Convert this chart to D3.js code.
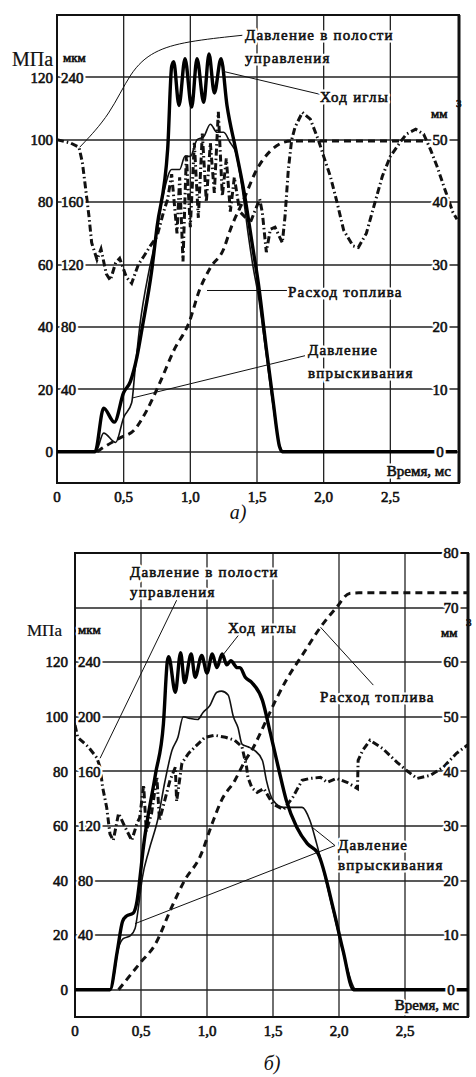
<!DOCTYPE html>
<html>
<head>
<meta charset="utf-8">
<script src="https://cdn.jsdelivr.net/npm/d3@7"></script>
<style>
  body { margin: 0; background: #fff; }
</style>
</head>
<body>
<div id="chart"></div>
<script>
// Axis ticks
const timeTicks = [0, 0.5, 1, 1.5, 2, 2.5];
const timeTickLabels = ["0", "0,5", "1,0", "1,5", "2,0", "2,5"];
const pressureTicksA = [0, 20, 40, 60, 80, 100, 120];
const liftTicksA = [40, 80, 120, 160, 240];
const volumeTicksA = [0, 10, 20, 30, 40, 50];
const pressureTicksB = [0, 20, 40, 60, 80, 100, 120];
const liftTicksB = [40, 80, 120, 160, 200, 240];
const volumeTicksB = [0, 10, 20, 30, 40, 50, 60, 70, 80];

// Panel а) — [time ms, value]
const needleLiftA = [[0,0],[0.285,0],[0.35,28],[0.43,19],[0.50,38],[0.55,45],[0.60,61],[0.64,80],[0.71,116],[0.75,144],[0.83,194],[0.86,247],[0.875,250],[0.915,222],[0.96,252],[1.01,221],[1.05,252],[1.10,224],[1.14,255],[1.18,230],[1.23,252],[1.275,222],[1.34,194],[1.40,168],[1.47,130],[1.51,108],[1.57,66],[1.62,33],[1.67,3],[1.69,0],[3.0,0]];
const injectionPressureA = [[0,0],[0.29,0],[0.35,6],[0.44,3],[0.50,11],[0.56,15.7],[0.585,26],[0.62,40],[0.69,58],[0.73,66],[0.80,83],[0.86,90.5],[0.92,90.5],[0.96,94.7],[1.0,94.7],[1.05,100],[1.10,101],[1.15,105],[1.20,102.4],[1.25,102.4],[1.30,99],[1.34,96],[1.39,84],[1.43,71],[1.47,59.4],[1.51,50],[1.57,31],[1.62,15],[1.67,2],[1.70,0],[3.0,0]];
const controlPressureA = [[0,100],[0.10,99],[0.165,97.6],[0.19,92.8],[0.21,86],[0.24,75.4],[0.26,67],[0.30,61.6],[0.33,65],[0.37,57],[0.40,55],[0.44,60.6],[0.47,62],[0.52,56],[0.56,54],[0.61,60],[0.65,62.6],[0.70,66],[0.75,69],[0.80,77],[0.83,81],[0.86,89],[0.90,70],[0.92,88],[0.945,61],[0.97,95],[1.0,72],[1.03,99],[1.06,75],[1.09,102],[1.12,80],[1.15,99],[1.18,83],[1.21,109],[1.24,82],[1.27,94],[1.30,77],[1.33,88],[1.37,77],[1.45,73.5],[1.52,81],[1.54,76.7],[1.57,64],[1.60,71.3],[1.635,72],[1.69,67],[1.71,75.4],[1.735,90.5],[1.76,100],[1.785,104],[1.84,108.8],[1.90,106.6],[1.96,100],[2.0,94.7],[2.05,88.3],[2.10,80],[2.15,71],[2.22,66],[2.26,65.5],[2.32,70],[2.37,77.7],[2.44,88.3],[2.50,94.7],[2.57,99],[2.62,101.8],[2.69,103.4],[2.75,101.8],[2.80,97],[2.85,91.5],[2.91,84],[2.97,76.7],[3.0,74.5]];
const fuelFlowA = [[0.30,0],[0.32,0.3],[0.47,2.2],[0.58,3.5],[0.675,6.7],[0.77,11],[0.88,16.4],[0.99,20.7],[1.07,26],[1.15,29.5],[1.25,32.5],[1.30,35.6],[1.40,40.4],[1.50,45.3],[1.60,48.2],[1.70,49.6],[1.76,49.8],[2.78,49.8]];

// Panel б)
const needleLiftB = [[0,0],[0.265,0],[0.32,28],[0.36,50],[0.39,54],[0.44,56],[0.47,65],[0.49,80],[0.515,102],[0.61,158],[0.67,195],[0.70,241],[0.71,244],[0.76,218],[0.80,247],[0.83,225],[0.88,246],[0.91,229],[0.96,245],[1.0,232],[1.04,246],[1.075,236],[1.115,246],[1.15,238],[1.18,241],[1.23,236],[1.25,236],[1.29,229],[1.34,225],[1.42,212],[1.48,188],[1.54,163],[1.60,139],[1.68,119],[1.76,107],[1.84,100],[1.96,58],[2.03,29],[2.11,0],[3.0,0]];
const injectionPressureB = [[0,0],[0.27,0],[0.33,15.4],[0.365,18.7],[0.42,19.8],[0.455,22.4],[0.48,30],[0.51,41],[0.56,51],[0.63,63],[0.68,76],[0.735,87.7],[0.78,92.5],[0.82,100],[0.87,99.4],[0.93,99],[0.97,101.6],[1.02,104],[1.075,109],[1.11,109.4],[1.16,108],[1.20,100],[1.235,96],[1.265,90],[1.31,89],[1.36,87.7],[1.42,84],[1.45,76.7],[1.50,69.4],[1.58,66.8],[1.65,66.8],[1.72,66.8],[1.78,62],[1.83,53.6],[1.96,28],[2.04,12],[2.13,0],[3.0,0]];
const controlPressureB = [[0,97],[0.02,92.5],[0.10,89],[0.165,85],[0.19,81.5],[0.21,74],[0.24,66.8],[0.265,57],[0.29,54.7],[0.33,64.6],[0.38,59.5],[0.43,54.7],[0.47,61],[0.49,63],[0.52,75],[0.54,58],[0.58,64.6],[0.62,78],[0.64,62],[0.68,69.4],[0.72,76.7],[0.76,81.5],[0.77,69],[0.81,83],[0.86,86.6],[0.91,89],[0.985,92.5],[1.06,93.2],[1.14,92.5],[1.21,91.4],[1.265,89],[1.30,81.5],[1.31,77.8],[1.34,74],[1.38,72.3],[1.43,73.7],[1.50,68],[1.58,66],[1.65,70.5],[1.72,76.7],[1.78,77.4],[1.86,77.8],[1.91,76],[1.98,77.4],[2.06,76],[2.14,73.7],[2.145,84],[2.18,87.7],[2.235,91.4],[2.33,88.4],[2.44,83.3],[2.51,80.4],[2.59,77.4],[2.69,78.5],[2.79,81.5],[2.89,86.6],[2.97,89.5],[3.0,90]];
const fuelFlowB = [[0.33,0],[0.49,4.8],[0.61,8.4],[0.73,15],[0.83,20],[0.95,24.5],[1.04,30.5],[1.11,34.7],[1.21,38.3],[1.29,42],[1.34,43.9],[1.45,49.4],[1.52,53],[1.60,56.7],[1.73,61.6],[1.86,66.4],[1.98,70],[2.08,72.6],[2.15,72.7],[3.0,72.7]];

const width = 476, height = 1077;
const serif = '"Liberation Serif", "Times New Roman", serif';
const svg = d3.select("#chart").append("svg")
  .attr("width", width).attr("height", height)
  .attr("viewBox", [0, 0, width, height]);

// Text with white halo, heavy serif faked with a thin stroke
const label = (g, x, y, str, o = {}) => {
  const add = () => g.append("text").attr("x", x).attr("y", y)
    .attr("dy", o.dy || null)
    .attr("text-anchor", o.anchor || "start")
    .attr("font-family", serif)
    .style("font-size", (o.size || 15) + "px")
    .style("letter-spacing", o.spacing || null)
    .style("font-style", o.italic ? "italic" : null)
    .text(str);
  if (o.halo) add().attr("fill", "#fff").attr("stroke", "#fff")
    .attr("stroke-width", 5).attr("stroke-linejoin", "round");
  add().attr("fill", "#111").attr("stroke", "#111")
    .attr("stroke-width", o.weight === undefined ? 0.6 : o.weight);
};

const drawPanel = (p) => {
  const x = d3.scaleLinear([0, 3], p.xRange);
  const yP = d3.scaleLinear(p.pDomain, [p.bottom, p.top]);
  const yL = d3.scaleLinear(p.liftDomain, [p.bottom, p.top]);
  const yV = d3.scaleLinear(p.volDomain, [p.bottom, p.top]);

  const g = svg.append("g");
  const clipId = "clip-" + p.id;
  g.append("clipPath").attr("id", clipId).append("rect")
    .attr("x", p.left).attr("y", p.top)
    .attr("width", p.right - p.left).attr("height", p.bottom - p.top);

  // Grid
  const gridY = Array.from(new Set([
    ...p.pTicks.map(d => Math.round(yP(d))),
    ...p.vTicks.map(d => Math.round(yV(d)))
  ])).filter(y => y > p.top + 2);
  g.selectAll(".hgrid").data(gridY).join("line")
    .attr("x1", p.left).attr("x2", p.right)
    .attr("y1", d => d).attr("y2", d => d)
    .attr("stroke", "#222").attr("stroke-width", 1.3);
  g.selectAll(".vgrid").data(timeTicks.slice(1)).join("line")
    .attr("x1", d => x(d)).attr("x2", d => x(d))
    .attr("y1", p.top).attr("y2", p.bottom)
    .attr("stroke", "#222").attr("stroke-width", 1.3);

  // Frame
  g.append("path")
    .attr("d", `M${p.left},${p.top}H${p.right}V${p.bottom}H${p.left}Z`)
    .attr("fill", "none").attr("stroke", "#111").attr("stroke-width", 2);
  g.append("line")
    .attr("x1", p.right).attr("x2", p.right).attr("y1", p.top).attr("y2", p.bottom)
    .attr("stroke", "#111").attr("stroke-width", 3);

  // Curves
  const curves = g.append("g").attr("clip-path", `url(#${clipId})`);
  const line = (ys, curve) => d3.line().x(d => x(d[0])).y(d => ys(d[1])).curve(curve);

  curves.append("path").datum(p.control)
    .attr("d", line(yP, d3.curveLinear))
    .attr("fill", "none").attr("stroke", "#111").attr("stroke-width", 3)
    .attr("stroke-dasharray", "7,3,1.5,3");
  curves.append("path").datum(p.fuel)
    .attr("d", line(yV, d3.curveMonotoneX))
    .attr("fill", "none").attr("stroke", "#111").attr("stroke-width", 3)
    .attr("stroke-dasharray", "7,5");
  curves.append("path").datum(p.injection)
    .attr("d", line(yP, d3.curveMonotoneX))
    .attr("fill", "none").attr("stroke", "#111").attr("stroke-width", 1.6);
  curves.append("path").datum(p.needle)
    .attr("d", line(yL, d3.curveMonotoneX))
    .attr("fill", "none").attr("stroke", "#000").attr("stroke-width", 3.4)
    .attr("stroke-linejoin", "round");

  // Leader lines
  p.leaders.forEach(l => {
    g.append("path").datum(l.points)
      .attr("d", line(yP, l.curve || d3.curveLinear))
      .attr("fill", "none").attr("stroke", "#111").attr("stroke-width", 1);
  });

  // Tick labels
  p.pTicks.forEach(d => label(g, p.pLabelX, yP(d), d, { dy: "0.35em", anchor: "end", size: p.tickSize, halo: true }));
  p.lTicks.forEach(d => label(g, p.lLabelX, yL(d), d, { dy: "0.35em", size: p.tickSize, halo: true }));
  p.vTicks.forEach(d => label(g, p.vLabelX, yV(d), d, { dy: "0.35em", anchor: "middle", size: p.tickSize, halo: true }));
  timeTicks.forEach((d, i) => label(g, x(d), p.bottom + 19, timeTickLabels[i], { anchor: "middle", size: p.tickSize }));

  // Axis titles
  label(g, p.mpaPos[0], p.mpaPos[1], "МПа", { size: p.mpaSize, weight: 0.2 });
  label(g, p.mkmPos[0], p.mkmPos[1], "мкм", { size: 13, halo: true });
  label(g, p.mm3Pos[0], p.mm3Pos[1], "мм", { size: 13, halo: true });
  label(g, p.mm3Pos[0] + 25, p.mm3Pos[1] - 11, "3", { size: 11 });
  label(g, p.timePos[0], p.timePos[1], "Время, мс", { anchor: "end", size: 15, halo: true });

  // Curve labels
  p.labels.forEach(l => label(g, l.x, l.y, l.text, { size: 15, spacing: "1.2px", halo: true }));

  // Caption
  label(g, p.captionPos[0], p.captionPos[1], p.caption, { anchor: "middle", size: 20, italic: true, weight: 0 });
};

drawPanel({
  id: "a", left: 57, right: 459, top: 15, bottom: 483, xRange: [57, 457],
  pDomain: [-10, 140], liftDomain: [-20, 280], volDomain: [-5, 70],
  pTicks: pressureTicksA, lTicks: liftTicksA, vTicks: volumeTicksA,
  pLabelX: 53, lLabelX: 61, vLabelX: 440, tickSize: 15,
  needle: needleLiftA, injection: injectionPressureA, control: controlPressureA, fuel: fuelFlowA,
  mpaPos: [12, 66], mpaSize: 20, mkmPos: [63, 62], mm3Pos: [431, 118], timePos: [451, 476],
  leaders: [
    { points: [[1.39,133.5],[0.97,131.6],[0.72,128.5],[0.55,122],[0.40,108],[0.17,97.6]], curve: d3.curveBasis },
    { points: [[1.24,122],[1.97,114.6]] },
    { points: [[1.125,51.7],[1.725,51.7]] },
    { points: [[1.86,30.8],[0.57,17.3]] }
  ],
  labels: [
    { text: "Давление в полости", x: 245, y: 40 },
    { text: "управления", x: 245, y: 63 },
    { text: "Ход иглы", x: 320, y: 102 },
    { text: "Расход топлива", x: 288, y: 297 },
    { text: "Давление", x: 308, y: 355 },
    { text: "впрыскивания", x: 308, y: 378 }
  ],
  caption: "а)", captionPos: [238, 519]
});

drawPanel({
  id: "b", left: 75, right: 468, top: 553, bottom: 1017, xRange: [75, 471],
  pDomain: [-10, 160], liftDomain: [-20, 320], volDomain: [-5, 80],
  pTicks: pressureTicksB, lTicks: liftTicksB, vTicks: volumeTicksB,
  pLabelX: 68, lLabelX: 78, vLabelX: 451, tickSize: 15,
  needle: needleLiftB, injection: injectionPressureB, control: controlPressureB, fuel: fuelFlowB,
  mpaPos: [27, 636], mpaSize: 17, mkmPos: [78, 634], mm3Pos: [441, 637], timePos: [459, 1010],
  leaders: [
    { points: [[0.77,142.7],[0.19,84.8]] },
    { points: [[1.25,130.6],[1.12,122.6]] },
    { points: [[2.26,111.6],[1.86,132.8]] },
    { points: [[1.80,59.4],[1.97,52.8],[0.455,24.2]] }
  ],
  labels: [
    { text: "Давление в полости", x: 130, y: 577 },
    { text: "управления", x: 130, y: 597 },
    { text: "Ход иглы", x: 228, y: 633 },
    { text: "Расход топлива", x: 320, y: 702 },
    { text: "Давление", x: 338, y: 850 },
    { text: "впрыскивания", x: 338, y: 870 }
  ],
  caption: "б)", captionPos: [272, 1070]
});
</script>
</body>
</html>
